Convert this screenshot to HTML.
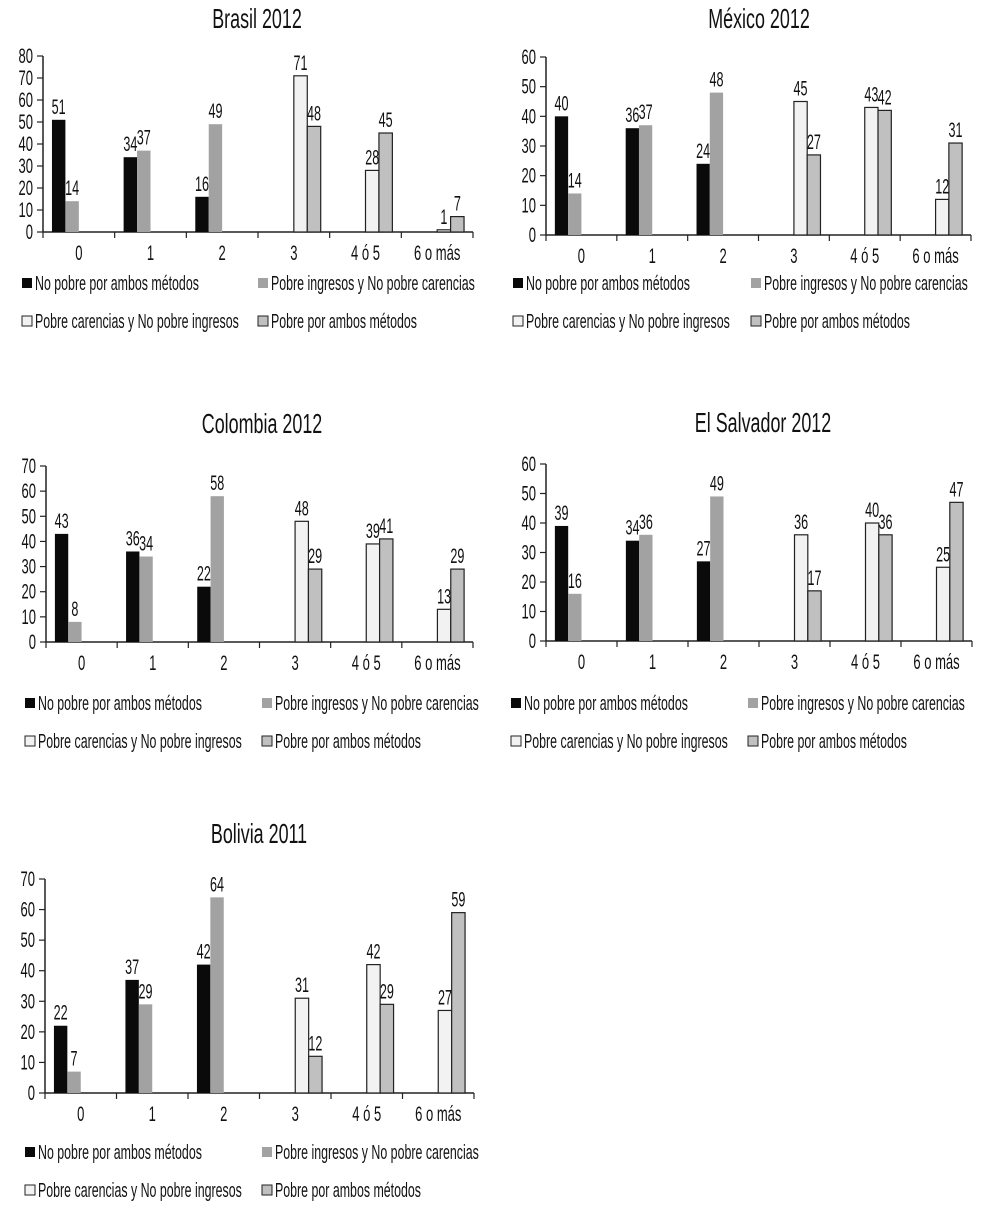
<!DOCTYPE html>
<html><head><meta charset="utf-8">
<style>
html,body{margin:0;padding:0;background:#fff;}
svg{display:block;}
text{font-family:"Liberation Sans",sans-serif;fill:#111;}
</style></head>
<body>
<svg id="root" width="987" height="1210" viewBox="0 0 987 1210"></svg>
<script>
const categories = ["0","1","2","3","4 ó 5","6 o más"];
const seriesNames = ["No pobre por ambos métodos","Pobre ingresos y No pobre carencias","Pobre carencias y No pobre ingresos","Pobre por ambos métodos"];
const brasilNoPobre = [51,34,16,null,null,null];
const brasilIngresos = [14,37,49,null,null,null];
const brasilCarencias = [null,null,null,71,28,1];
const brasilAmbos = [null,null,null,48,45,7];
const mexicoNoPobre = [40,36,24,null,null,null];
const mexicoIngresos = [14,37,48,null,null,null];
const mexicoCarencias = [null,null,null,45,43,12];
const mexicoAmbos = [null,null,null,27,42,31];
const colombiaNoPobre = [43,36,22,null,null,null];
const colombiaIngresos = [8,34,58,null,null,null];
const colombiaCarencias = [null,null,null,48,39,13];
const colombiaAmbos = [null,null,null,29,41,29];
const salvadorNoPobre = [39,34,27,null,null,null];
const salvadorIngresos = [16,36,49,null,null,null];
const salvadorCarencias = [null,null,null,36,40,25];
const salvadorAmbos = [null,null,null,17,36,47];
const boliviaNoPobre = [22,37,42,null,null,null];
const boliviaIngresos = [7,29,64,null,null,null];
const boliviaCarencias = [null,null,null,31,42,27];
const boliviaAmbos = [null,null,null,12,29,59];
const yTicks80 = [0,10,20,30,40,50,60,70,80];
const yTicks70 = [0,10,20,30,40,50,60,70];
const yTicks60 = [0,10,20,30,40,50,60];

const NS="http://www.w3.org/2000/svg";
const root=document.getElementById('root');
function mk(tag,attrs,parent){const e=document.createElementNS(NS,tag);for(const k in attrs)e.setAttribute(k,attrs[k]);(parent||root).appendChild(e);return e;}
function txt(parent,x,y,s,size,anchor,sx){
  const t=mk('text',{transform:`translate(${x},${y}) scale(${sx},1)`,'font-size':size,'text-anchor':anchor},parent);
  t.textContent=s;return t;
}
const fills=[{fill:"#0a0a0a",stroke:"none"},{fill:"#a2a2a2",stroke:"none"},{fill:"#f2f2f2",stroke:"#222"},{fill:"#c0c0c0",stroke:"#222"}];

function chart(cfg){
  const g=mk('g',{});
  
  
  const t=txt(g,cfg.titleX,cfg.titleY,cfg.title,28,'middle',0.64);
  
  
  const x0=cfg.x0,x1=cfg.x1,y0=cfg.y0,yTop=cfg.yTop,max=cfg.ticks[cfg.ticks.length-1];
  const yS=v=>y0-(v/max)*(y0-yTop);
  const catW=(x1-x0)/categories.length;
  const ax=mk('line',{x1:x0,y1:yTop,x2:x0,y2:y0,stroke:'#222','stroke-width':1.5},g);
  
  
  cfg.ticks.forEach(v=>{
    mk('line',{x1:x0-6,y1:yS(v),x2:x0,y2:yS(v),stroke:'#222','stroke-width':1.2},g);
    const l=txt(g,x0-10,yS(v)+7,String(v),21,'end',0.62);
    
    
  });
  const xa=mk('line',{x1:x0,y1:y0,x2:x1,y2:y0,stroke:'#222','stroke-width':1.5},g);
  
  
  const series=[cfg.s0,cfg.s1,cfg.s2,cfg.s3];
  categories.forEach((c,i)=>{
    const cx=x0+i*catW;
    mk('line',{x1:cx,y1:y0,x2:cx,y2:y0+6,stroke:'#222','stroke-width':1.2},g);
    const l=txt(g,cx+catW/2,y0+28,c,21,'middle',0.62);
    
    
    const bw=catW*0.1875, gap=catW*0.125;
    series.forEach((s,k)=>{
      const v=s[i]; if(v===null||v===undefined) return;
      const bx=cx+gap+k*bw, by=yS(v);
      const r=mk('rect',{x:bx,y:by,width:bw,height:y0-by,fill:fills[k].fill,stroke:fills[k].stroke,'stroke-width':1.2},g);
      
      
      const vl=txt(g,bx+bw/2,by-6,String(v),21,'middle',0.6);
      
      
    });
  });
  mk('line',{x1:x1,y1:y0,x2:x1,y2:y0+6,stroke:'#222','stroke-width':1.2},g);
  const lx=[cfg.legX1,cfg.legX2,cfg.legX1,cfg.legX2];
  const ly=[cfg.legY,cfg.legY,cfg.legY+38,cfg.legY+38];
  seriesNames.forEach((n,k)=>{
    const e=mk('g',{},g);
    
    
    mk('rect',{x:lx[k],y:ly[k]-5,width:10,height:10,fill:fills[k].fill,stroke:fills[k].stroke,'stroke-width':1},e);
    txt(e,lx[k]+13,ly[k]+7,n,20,'start',0.62);
  });
}

chart({name:'brasil-chart',title:'Brasil 2012',titleX:257,titleY:28,x0:43,x1:473,y0:232,yTop:56,ticks:yTicks80,
  s0:brasilNoPobre,s1:brasilIngresos,s2:brasilCarencias,s3:brasilAmbos,legX1:22,legX2:258,legY:283});
chart({name:'mexico-chart',title:'México 2012',titleX:759,titleY:28,x0:546,x1:971,y0:235,yTop:57,ticks:yTicks60,
  s0:mexicoNoPobre,s1:mexicoIngresos,s2:mexicoCarencias,s3:mexicoAmbos,legX1:513,legX2:751,legY:283});
chart({name:'colombia-chart',title:'Colombia 2012',titleX:262,titleY:433,x0:46,x1:473,y0:642,yTop:466,ticks:yTicks70,
  s0:colombiaNoPobre,s1:colombiaIngresos,s2:colombiaCarencias,s3:colombiaAmbos,legX1:25,legX2:262,legY:703});
chart({name:'el-salvador-chart',title:'El Salvador 2012',titleX:763,titleY:432,x0:546,x1:972,y0:641,yTop:464,ticks:yTicks60,
  s0:salvadorNoPobre,s1:salvadorIngresos,s2:salvadorCarencias,s3:salvadorAmbos,legX1:511,legX2:748,legY:703});
chart({name:'bolivia-chart',title:'Bolivia 2011',titleX:259,titleY:843,x0:45,x1:474,y0:1093,yTop:879,ticks:yTicks70,
  s0:boliviaNoPobre,s1:boliviaIngresos,s2:boliviaCarencias,s3:boliviaAmbos,legX1:25,legX2:262,legY:1152});
</script>
</body></html>
